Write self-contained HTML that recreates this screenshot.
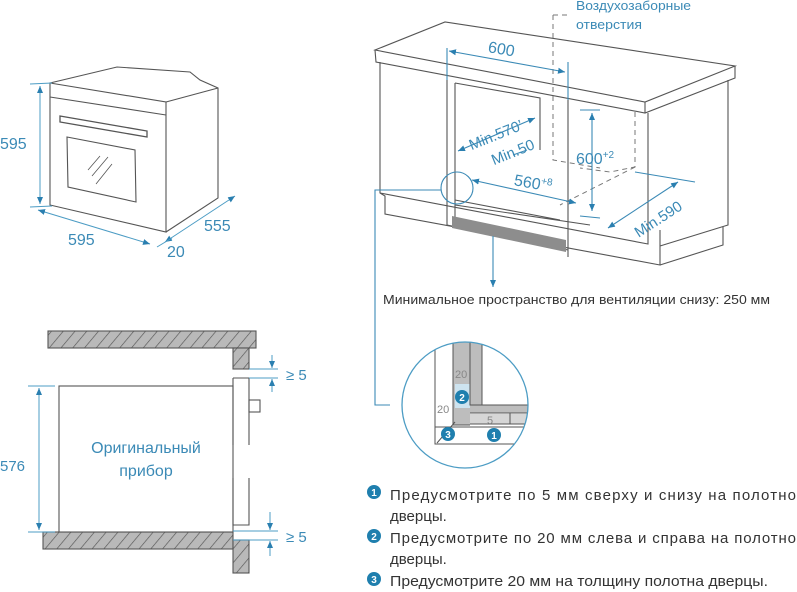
<!DOCTYPE html>
<html><head><meta charset="utf-8"><style>
html,body{margin:0;padding:0;background:#fff;}
svg{display:block;}
.t{font-family:"Liberation Sans","DejaVu Sans",sans-serif;}
</style></head><body>
<svg width="797" height="592" viewBox="0 0 797 592" xmlns="http://www.w3.org/2000/svg">
<defs>
<pattern id="h" width="9" height="9" patternUnits="userSpaceOnUse" patternTransform="rotate(40)">
<rect width="9" height="9" fill="#b9b9b9"/><line x1="0" y1="0" x2="0" y2="9" stroke="#555" stroke-width="1.3"/>
</pattern>
<marker id="a" markerWidth="8" markerHeight="8" refX="7" refY="4" orient="auto" markerUnits="userSpaceOnUse"><path d="M0,1 L7,4 L0,7 z" fill="#2a7fb0"/></marker>
<marker id="as" markerWidth="8" markerHeight="8" refX="1" refY="4" orient="auto" markerUnits="userSpaceOnUse"><path d="M8,1 L1,4 L8,7 z" fill="#2a7fb0"/></marker>
</defs>

<!-- ===== Top-left oven ===== -->
<g fill="none" stroke="#555" stroke-width="1.1">
<path d="M50,83 L117,67 L190,72 L200,80 L218,88 L218,198 L166,232"/>
<path d="M50,83 L166,102 L166,232 L50,205 Z"/>
<path d="M50,97 L166,115"/>
<path d="M166,102 L218,88"/>
<path d="M67,137 L135,150 L136,202 L68,187 Z"/>
<path d="M60,116 L147,131 L147,137 L60,122 Z" stroke-width="1.3"/>
<path d="M88,170 L100,156 M92,176 L108,157 M96,184 L112,164" stroke-width="0.8"/>
</g>
<g stroke="#4c9cc4" stroke-width="1" fill="none">
<line x1="40" y1="86" x2="40" y2="204" marker-end="url(#a)" marker-start="url(#as)"/>
<line x1="30" y1="84" x2="52" y2="83"/><line x1="30" y1="207" x2="52" y2="206"/>
<line x1="38" y1="210" x2="150" y2="244" marker-end="url(#a)" marker-start="url(#as)"/>
<line x1="165" y1="242" x2="235" y2="196" marker-end="url(#a)" marker-start="url(#as)"/>
<line x1="157" y1="247" x2="172" y2="238"/>
</g>
<g class="t" fill="#3b8ab6" font-size="16">
<text x="0" y="149">595</text>
<text x="68" y="245">595</text>
<text x="204" y="231">555</text>
<text x="167" y="257">20</text>
</g>

<!-- ===== Cabinet ===== -->
<g fill="none" stroke="#555" stroke-width="1.1">
<path d="M375,50 L445,22 L735,66 L645,102 Z"/>
<path d="M375,50 L376,62 L645,113 L735,78 L735,66"/>
<line x1="645" y1="102" x2="645" y2="113"/>
<path d="M380,62 L380,193 L385,196 L385,214 L660,265 L660,230"/>
<path d="M380,193 L648,244 L648,113"/>
<path d="M728,80 L728,225 L660,246"/>
<path d="M723,227 L723,245 L660,265"/>
<path d="M447,80 L447,225 M455,83 L455,224 M568,100 L568,257 M447,225 L568,250"/>
<path d="M455,83 L540,98 L540,150"/>
<path d="M455,200 L560,220 M455,205 L590,225"/>
</g>
<path d="M452,216 L566,240 L566,252 L452,228 Z" fill="#8d8d8d"/>
<g fill="none" stroke="#777" stroke-width="1" stroke-dasharray="5,4">
<path d="M553,15 L570,15 M553,15 L553,160 L600,168"/>
<path d="M635,112 L635,167 L610,172 L580,168"/>
<path d="M635,167 L560,205"/>
</g>
<g stroke="#3b8ab6" stroke-width="1.1" fill="none">
<line x1="447" y1="48" x2="447" y2="80"/><line x1="568" y1="62" x2="568" y2="100"/>
<line x1="449" y1="51" x2="565" y2="72" marker-end="url(#a)" marker-start="url(#as)"/>
<line x1="458" y1="151" x2="535" y2="118" marker-end="url(#a)" marker-start="url(#as)"/>
<path d="M513,155 L527,150"/>
<line x1="592" y1="113" x2="592" y2="211" marker-end="url(#a)" marker-start="url(#as)"/>
<line x1="580" y1="110" x2="600" y2="110"/><line x1="580" y1="216" x2="600" y2="218"/>
<line x1="472" y1="180" x2="576" y2="203" marker-end="url(#a)" marker-start="url(#as)"/>
<line x1="608" y1="228" x2="678" y2="182" marker-end="url(#a)" marker-start="url(#as)"/>
<line x1="635" y1="172" x2="695" y2="182"/>
<circle cx="457" cy="188" r="16"/>
<path d="M441,190 L375,190 L375,405 L400,405" marker-end="url(#a)"/>
<line x1="493" y1="236" x2="493" y2="287" marker-end="url(#a)"/>
</g>
<g class="t" fill="#3b8ab6" font-size="15">
<text x="488" y="55" transform="rotate(10 505 50)" font-size="16">600</text>
<text x="466" y="142" transform="rotate(-22 490 132)">Min.570’</text>
<text x="489" y="160" transform="rotate(-22 505 150)">Min.50</text>
<text x="576" y="164" font-size="16">600<tspan font-size="10" dy="-6">+2</tspan></text>
<text x="514" y="188" transform="rotate(10 530 183)" font-size="16">560<tspan font-size="10" dy="-6">+8</tspan></text>
<text x="628" y="228" transform="rotate(-33 650 215)">Min.590</text>
<text x="576" y="10" font-size="12.5" textLength="115" lengthAdjust="spacingAndGlyphs">Воздухозаборные</text>
<text x="576" y="29" font-size="12.5" textLength="66" lengthAdjust="spacingAndGlyphs">отверстия</text>
</g>
<text class="t" x="383" y="304" font-size="13" fill="#333" textLength="387" lengthAdjust="spacingAndGlyphs">Минимальное пространство для вентиляции снизу: 250 мм</text>

<!-- ===== Detail circle ===== -->
<g>
<rect x="453" y="340" width="17" height="85" fill="#bdbdbd"/>
<rect x="470" y="340" width="12" height="65" fill="#bdbdbd"/>
<rect x="470" y="405" width="60" height="8" fill="#bdbdbd"/>
<rect x="470" y="414" width="60" height="10" fill="#d6d6d6"/>
<rect x="455" y="384" width="15" height="24" fill="#cde3ef"/>
<path d="M435,340 V444 H528 M435,427 H528 M453,340 V425 H470 M470,340 V405 H528 M482,340 V405 M470,413 H528 M470,424 H528 M510,413 V424 M437,443 L455,422" fill="none" stroke="#555" stroke-width="1"/>
</g>
<path d="M390,330 H540 V480 H390 Z M465,342 A63,63 0 1,0 465,468 A63,63 0 1,0 465,342 Z" fill="#fff" fill-rule="evenodd"/>
<circle cx="465" cy="405" r="63" fill="none" stroke="#4c9cc4" stroke-width="1.3"/>
<g class="t" font-size="11" fill="#888"><text x="455" y="378">20</text><text x="437" y="413">20</text><text x="487" y="424">5</text></g>
<g class="t" font-size="10" font-weight="bold" fill="#fff" text-anchor="middle">
<circle cx="462" cy="397" r="7" fill="#1f7fae"/><text x="462" y="401">2</text>
<circle cx="448" cy="434" r="7" fill="#1f7fae"/><text x="448" y="438">3</text>
<circle cx="494" cy="435" r="7" fill="#1f7fae"/><text x="494" y="439">1</text>
</g>

<!-- ===== Bottom-left section ===== -->
<g stroke="#555" stroke-width="1.1">
<rect x="48" y="331" width="208" height="17" fill="url(#h)"/>
<rect x="233" y="348" width="16" height="21" fill="url(#h)"/>
<rect x="43" y="532" width="190" height="17" fill="url(#h)"/>
<rect x="233" y="540" width="16" height="33" fill="url(#h)"/>
<rect x="59" y="386" width="174" height="146" fill="#fff"/>
<rect x="249" y="400" width="11" height="12" fill="#fff"/>
<path d="M233,378 H249 V445 M233,378 V445 M233,478 V525 H249 V478" fill="none"/>
</g>
<g stroke="#4c9cc4" stroke-width="1" fill="none">
<line x1="39" y1="388" x2="39" y2="530" marker-end="url(#a)" marker-start="url(#as)"/>
<line x1="28" y1="386" x2="55" y2="386"/><line x1="28" y1="532" x2="55" y2="532"/>
<line x1="249" y1="369" x2="278" y2="369"/><line x1="249" y1="378" x2="278" y2="378"/>
<line x1="272" y1="355" x2="272" y2="368" marker-end="url(#a)"/><line x1="272" y1="392" x2="272" y2="379" marker-end="url(#a)"/>
<line x1="233" y1="531" x2="278" y2="531"/><line x1="233" y1="540" x2="278" y2="540"/>
<line x1="270" y1="512" x2="270" y2="530" marker-end="url(#a)"/><line x1="270" y1="556" x2="270" y2="541" marker-end="url(#a)"/>
</g>
<g class="t" fill="#3b8ab6">
<text x="286" y="380" font-size="15">≥ 5</text>
<text x="286" y="542" font-size="15">≥ 5</text>
<text x="0" y="471" font-size="15">576</text>
<text x="146" y="453" font-size="16" text-anchor="middle">Оригинальный</text>
<text x="146" y="476" font-size="16" text-anchor="middle">прибор</text>
</g>

<!-- ===== Notes ===== -->
<g class="t" font-size="10" font-weight="bold" fill="#fff" text-anchor="middle">
<circle cx="374" cy="492" r="7" fill="#1f7fae"/><text x="374" y="496">1</text>
<circle cx="374" cy="536" r="7" fill="#1f7fae"/><text x="374" y="540">2</text>
<circle cx="374" cy="579" r="7" fill="#1f7fae"/><text x="374" y="583">3</text>
</g>
<g class="t" font-size="15" fill="#333">
<text x="390" y="500" textLength="406" lengthAdjust="spacing">Предусмотрите по 5 мм сверху и снизу на полотно</text>
<text x="390" y="521">дверцы.</text>
<text x="390" y="543" textLength="406" lengthAdjust="spacing">Предусмотрите по 20 мм слева и справа на полотно</text>
<text x="390" y="564">дверцы.</text>
<text x="390" y="586" textLength="378" lengthAdjust="spacingAndGlyphs">Предусмотрите 20 мм на толщину полотна дверцы.</text>
</g>
</svg>
</body></html>
